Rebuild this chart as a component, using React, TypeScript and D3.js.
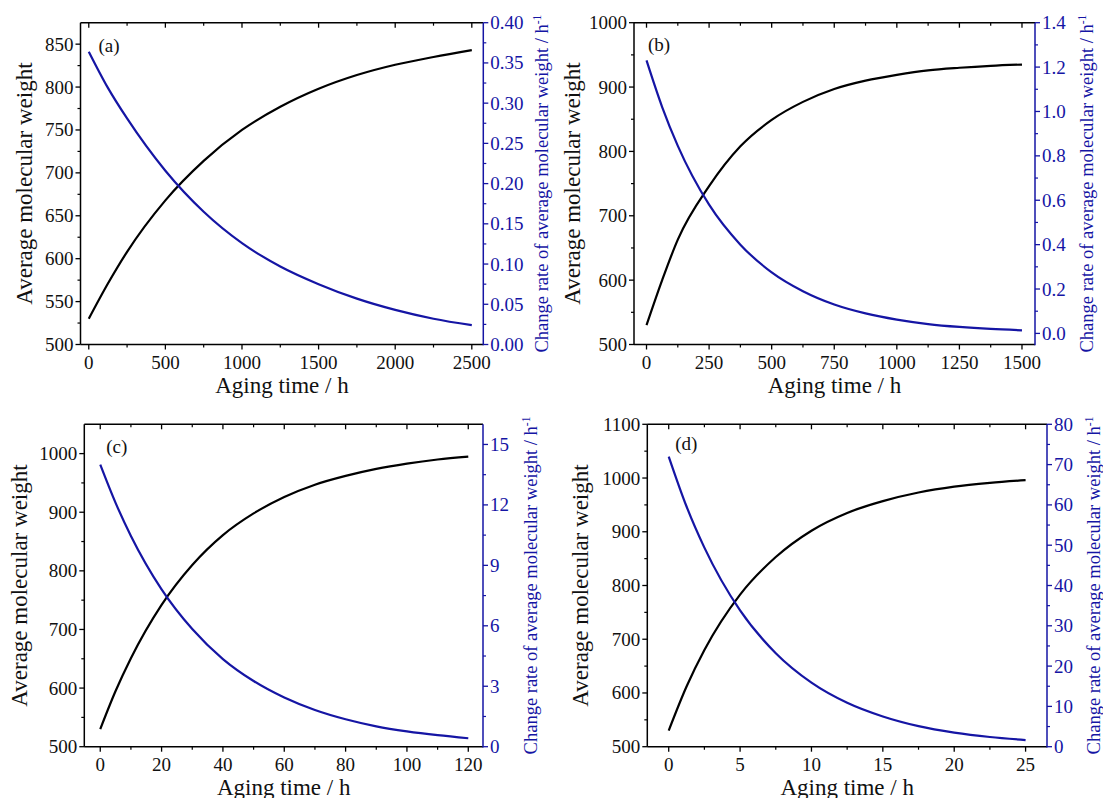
import React from "react";
import * as d3 from "d3";

// ---- Panel (a) ----
const aTime = [0, 125, 250, 500, 750, 1000, 1250, 1500, 1750, 2000, 2250, 2500];
const aWeight = [530, 571, 608, 668, 714, 750, 777, 798, 814, 826, 835, 843];
const aRate = [0.364, 0.319, 0.281, 0.216, 0.165, 0.126, 0.097, 0.075, 0.057, 0.043, 0.032, 0.024];
const aXTicks = [0, 500, 1000, 1500, 2000, 2500];
const aYTicks = [500, 550, 600, 650, 700, 750, 800, 850];
const aRTicks = [0, 0.05, 0.1, 0.15, 0.2, 0.25, 0.3, 0.35, 0.4];

// ---- Panel (b) ----
const bTime = [0, 62.5, 125, 250, 375, 500, 625, 750, 875, 1000, 1125, 1250, 1375, 1500];
const bWeight = [530, 600, 663, 746, 808, 849, 877, 897, 910, 919, 926, 930, 933, 935];
const bRate = [1.23, 1.02, 0.845, 0.58, 0.4, 0.275, 0.19, 0.13, 0.09, 0.062, 0.042, 0.029, 0.02, 0.014];
const bXTicks = [0, 250, 500, 750, 1000, 1250, 1500];
const bYTicks = [500, 600, 700, 800, 900, 1000];
const bRTicks = [0, 0.2, 0.4, 0.6, 0.8, 1.0, 1.2, 1.4];

// ---- Panel (c) ----
const cTime = [0, 5, 10, 20, 30, 40, 50, 60, 70, 80, 90, 100, 110, 120];
const cWeight = [530, 595, 651, 742, 810, 861, 898, 926, 947, 962, 974, 983, 990, 995];
const cRate = [14.0, 12.1, 10.46, 7.81, 5.84, 4.35, 3.26, 2.44, 1.82, 1.36, 1.01, 0.76, 0.57, 0.42];
const cXTicks = [0, 20, 40, 60, 80, 100, 120];
const cYTicks = [500, 600, 700, 800, 900, 1000];
const cRTicks = [0, 3, 6, 9, 12, 15];

// ---- Panel (d) ----
const dTime = [0, 1.25, 2.5, 5, 7.5, 10, 12.5, 15, 17.5, 20, 22.5, 25];
const dWeight = [530, 612, 680, 783, 853, 902, 935, 957, 973, 984, 991, 996];
const dRate = [72, 59.6, 49.4, 33.8, 23.2, 15.9, 10.9, 7.5, 5.1, 3.5, 2.4, 1.65];
const dXTicks = [0, 5, 10, 15, 20, 25];
const dYTicks = [500, 600, 700, 800, 900, 1000, 1100];
const dRTicks = [0, 10, 20, 30, 40, 50, 60, 70, 80];

const BLUE = "#1515a4";
const FONT = "Liberation Serif, Times New Roman, serif";

type PanelCfg = {
  tag: string;
  t: number[];
  weight: number[];
  rate: number[];
  xTicks: number[];
  yTicks: number[];
  rTicks: number[];
  rFmt: (v: number) => string;
  xDomain: [number, number];
  yDomain: [number, number];
  rDomain: [number, number];
  left: number;
  right: number;
  top: number;
  bottom: number;
  tagDx: number;
  tagDy: number;
  yTitleDx: number;
  rTitleDx: number;
};

const panels: PanelCfg[] = [
  {
    tag: "(a)", t: aTime, weight: aWeight, rate: aRate,
    xTicks: aXTicks, yTicks: aYTicks, rTicks: aRTicks, rFmt: (v) => v.toFixed(2),
    xDomain: [-54, 2575], yDomain: [500, 875], rDomain: [0, 0.4],
    left: 80.5, right: 483.3, top: 22.7, bottom: 344.5,
    tagDx: 18, tagDy: 29, yTitleDx: -49, rTitleDx: 65,
  },
  {
    tag: "(b)", t: bTime, weight: bWeight, rate: bRate,
    xTicks: bXTicks, yTicks: bYTicks, rTicks: bRTicks, rFmt: (v) => v.toFixed(1),
    xDomain: [-50, 1552], yDomain: [500, 1000], rDomain: [-0.05, 1.4],
    left: 634, right: 1035, top: 22.7, bottom: 344.5,
    tagDx: 14, tagDy: 28, yTitleDx: -54, rTitleDx: 58,
  },
  {
    tag: "(c)", t: cTime, weight: cWeight, rate: cRate,
    xTicks: cXTicks, yTicks: cYTicks, rTicks: cRTicks, rFmt: (v) => String(v),
    xDomain: [-5.2, 124.8], yDomain: [500, 1050], rDomain: [0, 16],
    left: 84.3, right: 483, top: 424.3, bottom: 746.7,
    tagDx: 22, tagDy: 29, yTitleDx: -57, rTitleDx: 54,
  },
  {
    tag: "(d)", t: dTime, weight: dWeight, rate: dRate,
    xTicks: dXTicks, yTicks: dYTicks, rTicks: dRTicks, rFmt: (v) => String(v),
    xDomain: [-1.5, 26.5], yDomain: [500, 1100], rDomain: [0, 80],
    left: 647.3, right: 1047, top: 424.3, bottom: 746.7,
    tagDx: 28, tagDy: 26, yTitleDx: -59, rTitleDx: 53,
  },
];

// Minor ticks sit halfway between major ticks (plus one step beyond each end).
function minors(major: number[], domain: [number, number]): number[] {
  const step = major[1] - major[0];
  const out: number[] = [];
  const lo = Math.min(domain[0], domain[1]);
  const hi = Math.max(domain[0], domain[1]);
  for (let i = -1; i < major.length; i++) {
    const v = major[0] + (i + 0.5) * step;
    if (v > lo + 1e-9 && v < hi - 1e-9) out.push(v);
  }
  return out;
}

const MAJ = 5;
const MIN = 3;
const TICK_FS = 19;
const TITLE_FS = 23;

function Panel({ p }: { p: PanelCfg }) {
  const x = d3.scaleLinear().domain(p.xDomain).range([p.left, p.right]);
  const yL = d3.scaleLinear().domain(p.yDomain).range([p.bottom, p.top]);
  const yR = d3.scaleLinear().domain(p.rDomain).range([p.bottom, p.top]);

  const weightLine = d3
    .line<number>()
    .x((_, i) => x(p.t[i]))
    .y((d) => yL(d))
    .curve(d3.curveMonotoneX);
  const rateLine = d3
    .line<number>()
    .x((_, i) => x(p.t[i]))
    .y((d) => yR(d))
    .curve(d3.curveMonotoneX);

  const xMinor = minors(p.xTicks, p.xDomain);
  const yMinor = minors(p.yTicks, p.yDomain);
  const rMinor = minors(p.rTicks, p.rDomain);
  const cx = (p.left + p.right) / 2;
  const cy = (p.top + p.bottom) / 2;

  return (
    <g>
      {/* curves */}
      <path d={weightLine(p.weight) || ""} fill="none" stroke="#000" strokeWidth={2.2} />
      <path d={rateLine(p.rate) || ""} fill="none" stroke={BLUE} strokeWidth={2.2} />

      {/* frame: left, bottom, top in black, right in blue */}
      <line x1={p.left} x2={p.left} y1={p.top} y2={p.bottom} stroke="#000" strokeWidth={1.5} />
      <line x1={p.left} x2={p.right} y1={p.bottom} y2={p.bottom} stroke="#000" strokeWidth={1.5} />
      <line x1={p.left} x2={p.right} y1={p.top} y2={p.top} stroke="#000" strokeWidth={1.5} />
      <line x1={p.right} x2={p.right} y1={p.top} y2={p.bottom + 0.75} stroke={BLUE} strokeWidth={1.5} />

      {/* bottom ticks (outward) and top ticks (inward) */}
      {p.xTicks.map((v) => (
        <g key={"xt" + v}>
          <line x1={x(v)} x2={x(v)} y1={p.bottom} y2={p.bottom + MAJ} stroke="#000" strokeWidth={1.3} />
          <line x1={x(v)} x2={x(v)} y1={p.top} y2={p.top + MAJ} stroke="#000" strokeWidth={1.3} />
          <text x={x(v)} y={p.bottom + 24} textAnchor="middle" fontSize={TICK_FS} fontFamily={FONT} fill="#111">
            {v}
          </text>
        </g>
      ))}
      {xMinor.map((v) => (
        <g key={"xm" + v}>
          <line x1={x(v)} x2={x(v)} y1={p.bottom} y2={p.bottom + MIN} stroke="#000" strokeWidth={1.2} />
          <line x1={x(v)} x2={x(v)} y1={p.top} y2={p.top + MIN} stroke="#000" strokeWidth={1.2} />
        </g>
      ))}

      {/* left axis ticks */}
      {p.yTicks.map((v) => (
        <g key={"yt" + v}>
          <line x1={p.left - MAJ} x2={p.left} y1={yL(v)} y2={yL(v)} stroke="#000" strokeWidth={1.3} />
          <text x={p.left - 7} y={yL(v) + 6.5} textAnchor="end" fontSize={TICK_FS} fontFamily={FONT} fill="#111">
            {v}
          </text>
        </g>
      ))}
      {yMinor.map((v) => (
        <line key={"ym" + v} x1={p.left - MIN} x2={p.left} y1={yL(v)} y2={yL(v)} stroke="#000" strokeWidth={1.2} />
      ))}

      {/* right axis ticks */}
      {p.rTicks.map((v) => (
        <g key={"rt" + v}>
          <line x1={p.right} x2={p.right + MAJ} y1={yR(v)} y2={yR(v)} stroke={BLUE} strokeWidth={1.3} />
          <text x={p.right + 7} y={yR(v) + 6.5} textAnchor="start" fontSize={TICK_FS} fontFamily={FONT} fill={BLUE}>
            {p.rFmt(v)}
          </text>
        </g>
      ))}
      {rMinor.map((v) => (
        <line key={"rm" + v} x1={p.right} x2={p.right + MIN} y1={yR(v)} y2={yR(v)} stroke={BLUE} strokeWidth={1.2} />
      ))}

      {/* panel tag */}
      <text x={p.left + p.tagDx} y={p.top + p.tagDy} fontSize={19} fontFamily={FONT} fill="#111">
        {p.tag}
      </text>

      {/* axis titles */}
      <text x={cx} y={p.bottom + 48.5} textAnchor="middle" fontSize={TITLE_FS} fontFamily={FONT} fill="#111">
        Aging time / h
      </text>
      <text
        transform={`translate(${p.left + p.yTitleDx},${cy}) rotate(-90)`}
        textAnchor="middle"
        fontSize={TITLE_FS}
        fontFamily={FONT}
        fill="#111"
      >
        Average molecular weight
      </text>
      <text
        transform={`translate(${p.right + p.rTitleDx},${cy}) rotate(-90)`}
        textAnchor="middle"
        fontSize={18.5}
        fontFamily={FONT}
        fill={BLUE}
      >
        Change rate of average molecular weight / h
        <tspan fontSize={11.5} dy={-7}>-1</tspan>
      </text>
    </g>
  );
}

export default function App() {
  return (
    <svg
      width={1103}
      height={798}
      viewBox="0 0 1103 798"
      style={{ position: "absolute", left: 0, top: 0, background: "#fff" }}
    >
      <rect x={0} y={0} width={1103} height={798} fill="#fff" />
      {panels.map((p) => (
        <Panel key={p.tag} p={p} />
      ))}
    </svg>
  );
}
